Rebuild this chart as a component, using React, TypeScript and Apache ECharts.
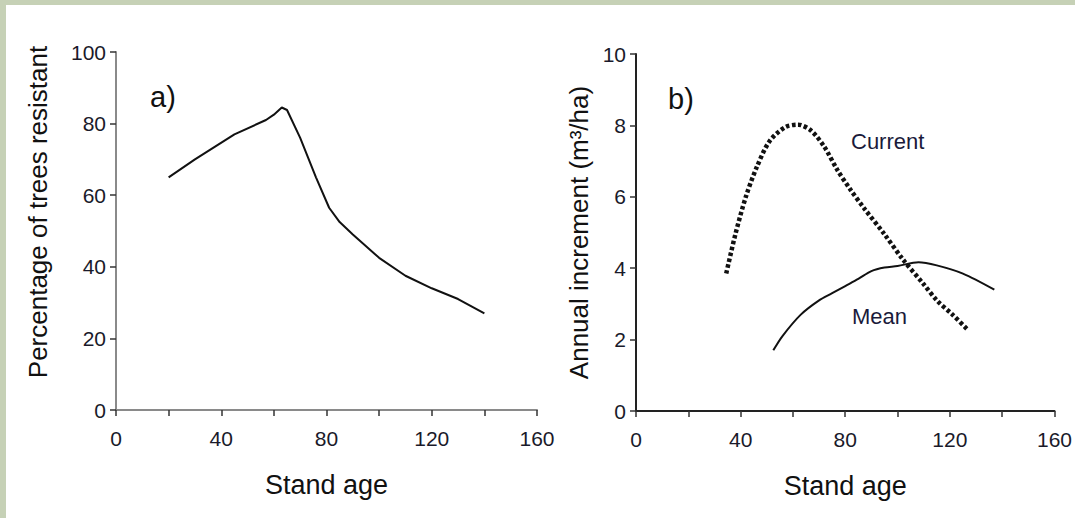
import React, { useEffect, useRef } from "react";
import * as echarts from "echarts";

const resistantAge = [20, 30, 45, 57, 60, 63, 65, 70, 76, 81, 85, 90, 100, 110, 120, 130, 140];
const resistantPct = [65, 70, 77, 81, 82.5, 84.5, 83.8, 76, 65, 56.5, 52.5, 49, 42.5, 37.5, 34, 31, 27];

const currentAge = [34.5, 38, 42, 46, 51, 57, 62, 67, 72, 77, 82, 87, 95, 102, 110, 115, 121, 126.5];
const currentInc = [3.85, 4.95, 6, 6.8, 7.55, 7.95, 8.02, 7.85, 7.4, 6.75, 6.2, 5.7, 4.95, 4.25, 3.55, 3.1, 2.7, 2.3];

const meanAge = [52.5, 56, 63, 70, 75, 80, 85, 90, 95, 100, 108, 115, 125, 137];
const meanInc = [1.7, 2.1, 2.7, 3.1, 3.3, 3.5, 3.7, 3.92, 4.02, 4.06, 4.17, 4.08, 3.85, 3.4];

const xTicks = [0, 40, 80, 120, 160];

const FONT = "Liberation Sans, Arial, sans-serif";

function zip(a: number[], b: number[]) {
  return a.map((v, i) => [v, b[i]]);
}

export default function App() {
  const ref = useRef<HTMLDivElement>(null);
  useEffect(() => {
    document.body.style.margin = "0";
    if (!ref.current) return;
    const chart = echarts.init(ref.current, null, { renderer: "svg" });
    const xAxisBase = (idx: number, color: string) => ({
      type: "value",
      gridIndex: idx,
      min: 0,
      max: 160,
      interval: 40,
      name: "Stand age",
      nameLocation: "middle",
      nameGap: 61,
      nameTextStyle: { fontSize: 27, color: "#111", fontFamily: FONT },
      axisLine: { show: true, onZero: false, lineStyle: { color, width: 2 } },
      axisTick: { show: true, length: 6, lineStyle: { color: "#333", width: 1.5 } },
      minorTick: { show: true, splitNumber: 2, length: 6, lineStyle: { color: "#333", width: 1.5 } },
      splitLine: { show: false },
      axisLabel: { fontSize: 21, color: "#1a1a2a", fontFamily: FONT, margin: 18,
        formatter: (v: number) => (xTicks.includes(v) ? String(v) : "") },
    });
    const yAxisBase = (idx: number, max: number, interval: number, name: string, gap: number, color: string, pad: number[]) => ({
      type: "value",
      gridIndex: idx,
      min: 0,
      max,
      interval,
      name,
      nameLocation: "middle",
      nameGap: gap,
      nameTextStyle: { fontSize: 26, color: "#111", fontFamily: FONT, padding: pad },
      axisLine: { show: true, lineStyle: { color, width: 2 } },
      axisTick: { show: true, length: 6, lineStyle: { color: "#333", width: 1.5 } },
      splitLine: { show: false },
      axisLabel: { fontSize: 21, color: "#1a1a2a", fontFamily: FONT, margin: 10 },
    });
    chart.setOption({
      animation: false,
      grid: [
        { left: 116, top: 52, width: 421, height: 358 },
        { left: 636, top: 54, width: 422, height: 357 },
      ],
      xAxis: [xAxisBase(0, "#8a8a8a"), xAxisBase(1, "#222")],
      yAxis: [
        yAxisBase(0, 100, 20, "Percentage of trees resistant", 65, "#8a8a8a", [0, 0, 0, 38]),
        yAxisBase(1, 10, 2, "Annual increment (m³/ha)", 44, "#222", [0, 0, 0, 0]),
      ],
      series: [
        {
          type: "line", xAxisIndex: 0, yAxisIndex: 0, data: zip(resistantAge, resistantPct),
          showSymbol: false, lineStyle: { color: "#111", width: 2 },
        },
        {
          type: "line", xAxisIndex: 1, yAxisIndex: 1, data: zip(currentAge, currentInc),
          showSymbol: false, smooth: 0.3,
          lineStyle: { color: "#111", width: 4.5, type: [3.5, 2.5], cap: "butt" },
        },
        {
          type: "line", xAxisIndex: 1, yAxisIndex: 1, data: zip(meanAge, meanInc),
          showSymbol: false, smooth: 0.3, lineStyle: { color: "#111", width: 2 },
        },
      ],
      graphic: [
        { type: "text", left: 150, top: 82, style: { text: "a)", fontSize: 29, fill: "#111", fontFamily: FONT } },
        { type: "text", left: 668, top: 84, style: { text: "b)", fontSize: 29, fill: "#111", fontFamily: FONT } },
        { type: "text", left: 851, top: 130, style: { text: "Current", fontSize: 22, fill: "#1a1a3a", fontFamily: FONT } },
        { type: "text", left: 852, top: 305, style: { text: "Mean", fontSize: 22, fill: "#1a1a3a", fontFamily: FONT } },
      ],
    });
    return () => chart.dispose();
  }, []);
  return (
    <div style={{ position: "relative", width: 1075, height: 518, background: "#c6d1b6", overflow: "hidden" }}>
      <div style={{ position: "absolute", left: 6, top: 5, width: 1069, height: 513, background: "#fff" }} />
      <div ref={ref} style={{ position: "absolute", left: 0, top: 0, width: 1075, height: 518 }} />
    </div>
  );
}
